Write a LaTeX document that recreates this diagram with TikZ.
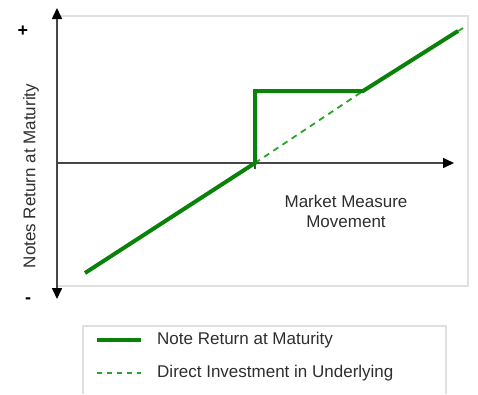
\documentclass[tikz,border=0pt]{standalone}
\usepackage{fontspec}
\setmainfont{Liberation Sans}
\usepackage{tikz}
\usetikzlibrary{arrows.meta}
\definecolor{notegreen}{RGB}{10,130,10}
\definecolor{dirgreen}{RGB}{40,165,40}
\tikzset{
  axisline/.style = {draw=black!72, line width=1.6pt},
  axistip/.tip    = {Triangle[length=11pt,width=10pt,color=black]},
  plotframe/.style = {draw=black!12, line width=1.5pt},
  payoff/.style   = {draw=notegreen, line width=4pt},
  direct/.style   = {draw=dirgreen, line width=1.8pt, dash pattern=on 6pt off 5pt},
  lbl/.style      = {font=\fontsize{17}{20}\selectfont, text=black!82, inner sep=0pt},
  sign/.style     = {lbl, font=\fontsize{18}{20}\selectfont\bfseries, text=black}
}

\begin{document}
\begin{tikzpicture}[x=1pt,y=-1pt]
 \useasboundingbox (0,0) rectangle (478,394);

 % plot area
 \coordinate (origin) at (57,163);
 \coordinate (ytop) at (57,8);
 \coordinate (ybot) at (57,299);
 \coordinate (xend) at (454,163);
 \draw[plotframe] (57,16) -| (468,286) -- (57,286);
 \draw[axisline, axistip-axistip] (ybot) -- (ytop);
 \draw[axisline, -axistip] (origin) -- (xend);

 % payoff
 \coordinate (start)  at (85,273);
 \coordinate (kink)   at (255,163);
 \coordinate (jump)   at (255,91);
 \coordinate (rejoin) at (363,91);
 \coordinate (finish) at (458,31);
 \coordinate (dirend) at (467,25.5);
 \draw[axisline, line width=1.2pt] (kink) -- ++(0,6);
 \draw[direct] (kink) -- (rejoin) -- (dirend);
 \draw[payoff] (start) -- (kink) -- (jump) -- (rejoin) -- (finish);

 % labels
 \node[sign] (plus)  at (23,31) {+};
 \node[sign] (minus) at (28,301) {-};
 \node[lbl, rotate=90] (ylab) at (31,176) {Notes Return at Maturity};
 \node[lbl, align=center] (xlab) at (346,211) {Market Measure\\Movement};

 % legend
 \draw[plotframe] (83,394) |- (446,326) -- (446,394);
 \coordinate (leg1a) at (97,340);
 \coordinate (leg1b) at (141,340);
 \coordinate (leg2a) at (97,373);
 \coordinate (leg2b) at (141,373);
 \draw[payoff] (leg1a) -- (leg1b);
 \draw[direct, line width=1.5pt, dash pattern=on 5pt off 5pt] (leg2a) -- (leg2b);
 \node[lbl, anchor=west] (leg1) at (157,340) {Note Return at Maturity};
 \node[lbl, anchor=west] (leg2) at (157,373) {Direct Investment in Underlying};
\end{tikzpicture}
\end{document}
